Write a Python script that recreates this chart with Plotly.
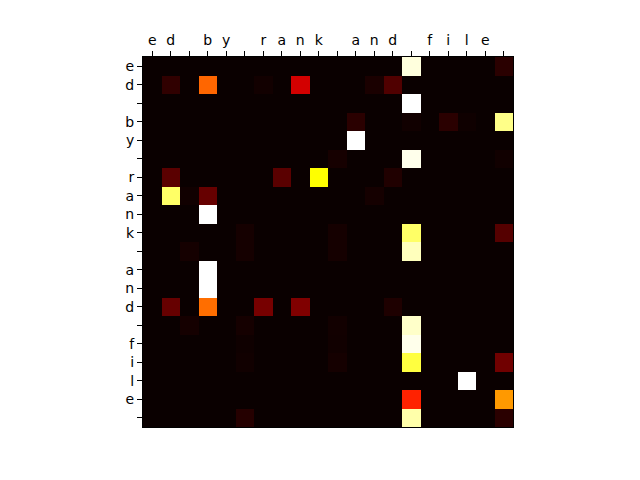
import plotly.graph_objects as go

x_labels = ["e", "d", " ", "b", "y", " ", "r", "a", "n", "k", " ", "a", "n", "d", " ", "f", "i", "l", "e", " "]
y_labels = ["e", "d", " ", "b", "y", " ", "r", "a", "n", "k", " ", "a", "n", "d", " ", "f", "i", "l", "e", " "]

weights = [
    [0, 0, 0, 0, 0, 0, 0, 0, 0, 0, 0, 0, 0, 0, 0.966, 0, 0, 0, 0, 0.048],
    [0, 0.057, 0, 0.517, 0, 0, 0.012, 0, 0.30, 0, 0, 0, 0.024, 0.104, 0, 0, 0, 0, 0, 0],
    [0, 0, 0, 0, 0, 0, 0, 0, 0, 0, 0, 0, 0, 0, 1.0, 0, 0, 0, 0, 0],
    [0, 0, 0, 0, 0, 0, 0, 0, 0, 0, 0, 0.048, 0, 0, 0.01, 0, 0.048, 0.008, 0, 0.881],
    [0, 0, 0, 0, 0, 0, 0, 0, 0, 0, 0, 1.0, 0, 0, 0, 0, 0, 0, 0, 0],
    [0, 0, 0, 0, 0, 0, 0, 0, 0, 0, 0.018, 0, 0, 0, 0.98, 0, 0, 0, 0, 0.01],
    [0, 0.119, 0, 0, 0, 0, 0, 0.119, 0, 0.746, 0, 0, 0, 0.033, 0, 0, 0, 0, 0, 0],
    [0, 0.848, 0.01, 0.137, 0, 0, 0, 0, 0, 0, 0, 0, 0.016, 0, 0, 0, 0, 0, 0, 0],
    [0, 0, 0, 1.0, 0, 0, 0, 0, 0, 0, 0, 0, 0, 0, 0, 0, 0, 0, 0, 0],
    [0, 0, 0, 0, 0, 0.016, 0, 0, 0, 0, 0.016, 0, 0, 0, 0.848, 0, 0, 0, 0, 0.112],
    [0, 0, 0.016, 0, 0, 0.016, 0, 0, 0, 0, 0.016, 0, 0, 0, 0.933, 0, 0, 0, 0, 0],
    [0, 0, 0, 1.0, 0, 0, 0, 0, 0, 0, 0, 0, 0, 0, 0, 0, 0, 0, 0, 0],
    [0, 0, 0, 1.0, 0, 0, 0, 0, 0, 0, 0, 0, 0, 0, 0, 0, 0, 0, 0, 0],
    [0, 0.137, 0, 0.529, 0, 0, 0.162, 0, 0.176, 0, 0, 0, 0, 0.03, 0, 0, 0, 0, 0, 0],
    [0, 0, 0.016, 0, 0, 0.016, 0, 0, 0, 0, 0.012, 0, 0, 0, 0.946, 0, 0, 0, 0, 0],
    [0, 0, 0, 0, 0, 0.008, 0, 0, 0, 0, 0.01, 0, 0, 0, 0.98, 0, 0, 0, 0, 0],
    [0, 0, 0, 0, 0, 0.01, 0, 0, 0, 0, 0.016, 0, 0, 0, 0.81, 0, 0, 0, 0, 0.152],
    [0, 0, 0, 0, 0, 0, 0, 0, 0, 0, 0, 0, 0, 0, 0, 0, 0, 1.0, 0, 0],
    [0, 0, 0, 0, 0, 0, 0, 0, 0, 0, 0, 0, 0, 0, 0.416, 0, 0, 0, 0, 0.594],
    [0, 0, 0, 0, 0, 0.04, 0, 0, 0, 0, 0, 0, 0, 0, 0.915, 0, 0, 0, 0, 0.048],
]

hot = [
    [0.0, "rgb(10,0,0)"],
    [0.365, "rgb(255,0,0)"],
    [0.746, "rgb(255,255,0)"],
    [1.0, "rgb(255,255,255)"],
]

xs = list(range(len(x_labels)))
ys = list(range(len(y_labels)))

fig = go.Figure(go.Heatmap(
    z=weights, x=xs, y=ys, colorscale=hot, zmin=0, zmax=1,
    showscale=False, xgap=0, ygap=0,
))

font = dict(family="DejaVu Sans", size=14, color="black")
fig.update_layout(
    width=632, height=472,
    margin=dict(l=135, r=127, t=49, b=53),
    paper_bgcolor="white", plot_bgcolor="white",
    font=font,
    xaxis=dict(
        side="top", tickmode="array", tickvals=xs, ticktext=x_labels,
        ticks="outside", ticklen=5, tickwidth=1, tickcolor="black",
        showgrid=False, zeroline=False, range=[-0.5, 19.5],
        showline=True, linecolor="black", linewidth=1, mirror=True,
        tickfont=font, constrain="domain", automargin=False,
    ),
    yaxis=dict(
        tickmode="array", tickvals=ys, ticktext=y_labels,
        ticks="outside", ticklen=5, tickwidth=1, tickcolor="black",
        showgrid=False, zeroline=False, range=[19.5, -0.5],
        showline=True, linecolor="black", linewidth=1, mirror=True,
        tickfont=font, scaleanchor="x", scaleratio=1, constrain="domain",
        automargin=False,
    ),
)

fig.write_html("out.html")
